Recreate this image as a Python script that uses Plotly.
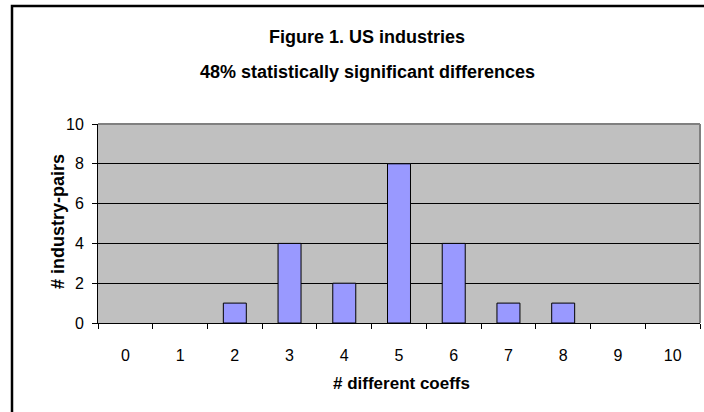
import plotly.graph_objects as go

categories = ["0", "1", "2", "3", "4", "5", "6", "7", "8", "9", "10"]
counts = [0, 0, 1, 4, 2, 8, 4, 1, 1, 0, 0]
y_ticks = [0, 2, 4, 6, 8, 10]
title_line1 = "Figure 1. US industries"
title_line2 = "48% statistically significant differences"
x_title = "# different coeffs"
y_title = "# industry-pairs"

W, H = 704, 412
ML, MR, MT, MB = 98, 4, 124, 89
PW, PH = W - ML - MR, H - MT - MB

def px(x):
    return (x - ML) / PW

def py(y):
    return (H - MB - y) / PH

FONT = "Arial, 'Liberation Sans', sans-serif"

# zero-count categories draw no bar
bar_heights = [v if v else None for v in counts]

fig = go.Figure(go.Bar(
    x=categories, y=bar_heights, width=0.42,
    marker=dict(color="#9999FF", line=dict(color="black", width=1)),
))

fig.update_layout(
    width=W, height=H,
    margin=dict(l=ML, r=MR, t=MT, b=MB),
    paper_bgcolor="white", plot_bgcolor="#C0C0C0",
    showlegend=False,
    font=dict(family=FONT, size=16, color="black"),
    xaxis=dict(
        type="category", range=[-0.5, 10.5], tickson="boundaries",
        ticks="outside", ticklen=5, tickcolor="black", tickwidth=1,
        showline=True, linecolor="black", linewidth=1,
        showgrid=False, layer="above traces",
        tickfont=dict(size=16), ticklabelstandoff=18,
    ),
    yaxis=dict(
        range=[0, 10], tickvals=y_ticks,
        ticks="outside", ticklen=5, tickcolor="black", tickwidth=1,
        showline=True, linecolor="black", linewidth=1,
        showgrid=True, gridcolor="black", gridwidth=1, zeroline=False,
        layer="above traces", tickfont=dict(size=16), ticklabelstandoff=5,
    ),
    shapes=[
        dict(type="line", xref="paper", yref="paper", x0=0, x1=1, y0=1, y1=1,
             line=dict(color="#808080", width=2), layer="above"),
        dict(type="line", xref="paper", yref="paper", x0=1, x1=1, y0=0, y1=1,
             line=dict(color="#808080", width=2), layer="above"),
        dict(type="rect", xref="paper", yref="paper",
             x0=px(12), x1=px(720), y0=py(430), y1=py(6),
             line=dict(color="black", width=2.5), fillcolor="rgba(0,0,0,0)", layer="above"),
    ],
    annotations=[
        dict(text="<b>" + title_line1 + "</b>", xref="paper", yref="paper",
             x=px(367), y=py(37), showarrow=False, xanchor="center", yanchor="middle",
             font=dict(size=18)),
        dict(text="<b>" + title_line2 + "</b>", xref="paper", yref="paper",
             x=px(367), y=py(72), showarrow=False, xanchor="center", yanchor="middle",
             font=dict(size=18)),
        dict(text="<b>" + x_title + "</b>", xref="paper", yref="paper",
             x=px(401), y=py(383), showarrow=False, xanchor="center", yanchor="middle",
             font=dict(size=17)),
        dict(text="<b>" + y_title + "</b>", xref="paper", yref="paper",
             x=px(58), y=py(222), showarrow=False, xanchor="center", yanchor="middle",
             textangle=-90, font=dict(size=18)),
    ],
)

fig.write_html("out.html")
